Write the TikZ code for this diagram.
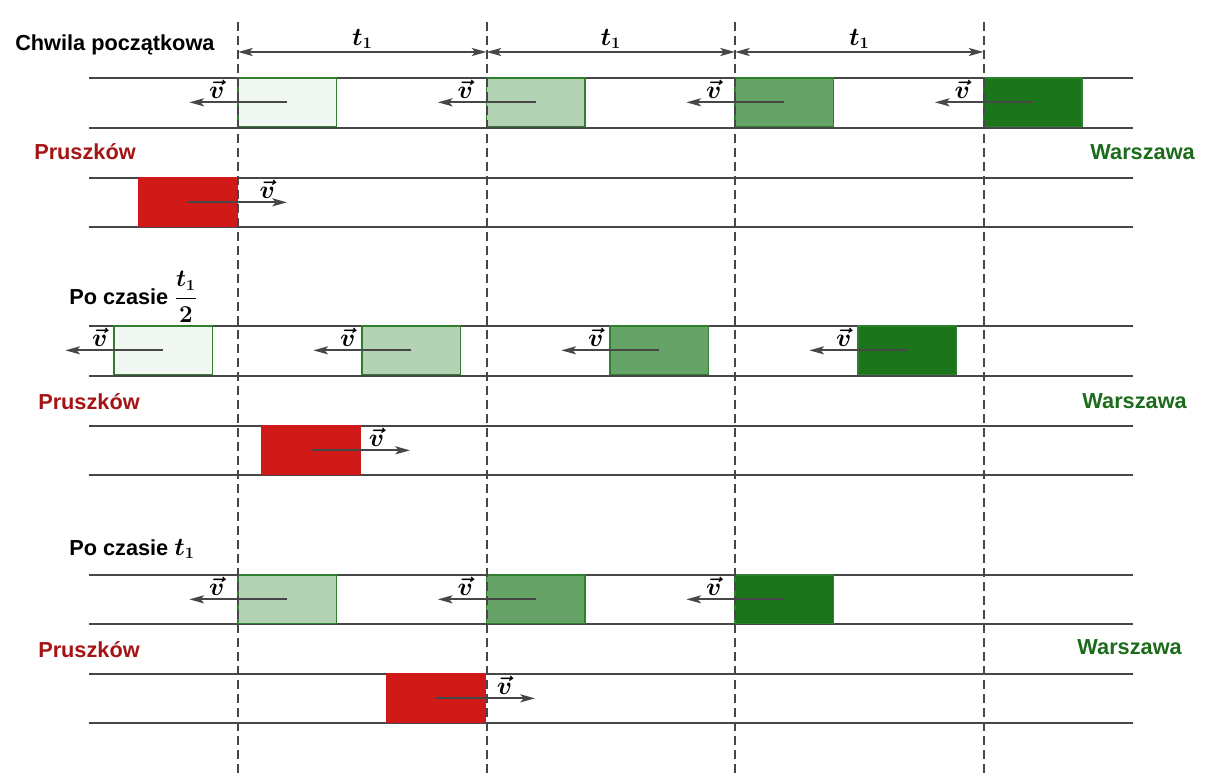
\documentclass[tikz,border=0pt]{standalone}
\usepackage{fontspec}
\usepackage{amsmath,bm}
\setmainfont{Liberation Sans}
\usetikzlibrary{arrows.meta}
\definecolor{dkgreen}{HTML}{1B761B}
\definecolor{lgreen}{HTML}{2F7F2F}
\definecolor{trred}{HTML}{D01A1A}
\definecolor{txred}{HTML}{A51414}
\definecolor{txgreen}{HTML}{1B6B1B}
\definecolor{linegray}{HTML}{474747}
\newcommand{\vv}{\scalebox{1.1}{$\bm{\vec{v}}$}}
\newcommand{\tjeden}{\scalebox{1.1}{$\bm{t_1}$}}
\begin{document}
\begin{tikzpicture}[x=0.75pt, y=-0.75pt, line cap=butt, font=\fontsize{16.3}{19}\selectfont\bfseries,
	>={Stealth[length=11pt, width=6pt, inset=2.5pt]}]
	\tikzset{rail/.style={draw=linegray, line width=1.4pt},
		train/.style={draw=lgreen, line width=1.1pt, minimum width=74pt, minimum height=36.5pt, inner sep=0pt, outer sep=0pt, anchor=north west},
		redtrain/.style={train, draw=trred, fill=trred},
		vel/.style={->, draw=linegray, line width=1.6pt},
		vlab/.style={above, inner sep=2pt},
		guide/.style={draw=linegray, line width=1.5pt, dash pattern=on 6.5pt off 4pt},
		town/.style={inner sep=0pt}}
	\useasboundingbox (0,0) rectangle (1209,781);
	% tory
	\foreach \y in {78,128,178,227,326,376,426,475,575,624,674,723}
		\draw[rail] (89,\y) -- (1133,\y);
	% chwila poczatkowa
	\foreach \x/\c/\n in {238/dkgreen!6/a, 486.5/dkgreen!33/b, 735/dkgreen!67/c, 983.5/dkgreen/d} {
		\node[train, fill=\c] (A\n) at (\x,78) {};
		\coordinate (A\n v) at ([xshift=-73.5pt]A\n.center);
		\draw[vel] (A\n.center) -- (A\n v) node[pos=0.72, vlab]{\vv};
	}
	\node[redtrain] (Ar) at (139,178) {};
	\coordinate (Ar v) at ([xshift=74pt]Ar.center);
	\draw[vel] (Ar.center) -- (Ar v) node[pos=0.8, vlab]{\vv};
	% po czasie t1/2
	\foreach \x/\c/\n in {114/dkgreen!6/a, 362/dkgreen!33/b, 610/dkgreen!67/c, 858/dkgreen/d} {
		\node[train, fill=\c] (B\n) at (\x,326) {};
		\coordinate (B\n v) at ([xshift=-73.5pt]B\n.center);
		\draw[vel] (B\n.center) -- (B\n v) node[pos=0.65, vlab]{\vv};
	}
	\node[redtrain] (Br) at (262,426) {};
	\coordinate (Br v) at ([xshift=74pt]Br.center);
	\draw[vel] (Br.center) -- (Br v) node[pos=0.66, vlab]{\vv};
	% po czasie t1
	\foreach \x/\c/\n in {238/dkgreen!33/a, 486.5/dkgreen!67/b, 735/dkgreen/c} {
		\node[train, fill=\c] (C\n) at (\x,575) {};
		\coordinate (C\n v) at ([xshift=-73.5pt]C\n.center);
		\draw[vel] (C\n.center) -- (C\n v) node[pos=0.72, vlab]{\vv};
	}
	\node[redtrain] (Cr) at (387,674) {};
	\coordinate (Cr v) at ([xshift=74pt]Cr.center);
	\draw[vel] (Cr.center) -- (Cr v) node[pos=0.69, vlab]{\vv};
	% linie przerywane i odstepy t1
	\foreach \x [count=\i] in {238,486.5,735,983.5} {
		\coordinate (T\i) at (\x,52);
		\draw[guide] (\x,22) -- (\x,775);
	}
	\foreach \i/\j in {1/2,2/3,3/4}
		\draw[vel, <->] (T\i) -- (T\j)
			node[midway, vlab, inner sep=1.5pt]{\tjeden};
	% napisy
	\node[town, anchor=west] (chw) at (15,45) {Chwila początkowa};
	\node[town, anchor=west] (po1) at (69,297) {Po czasie \scalebox{1.05}{$\boldsymbol{\dfrac{t_1}{2}}$}};
	\node[town, anchor=west] (po2) at (69,549) {Po czasie \tjeden};
	\node[town, anchor=west, text=txred] (pr1) at (34,152) {Pruszków};
	\node[town, anchor=west, text=txred] (pr2) at (38,402) {Pruszków};
	\node[town, anchor=west, text=txred] (pr3) at (38,650) {Pruszków};
	\node[town, anchor=east, text=txgreen] (wa1) at (1195,152) {Warszawa};
	\node[town, anchor=east, text=txgreen] (wa2) at (1187,401) {Warszawa};
	\node[town, anchor=east, text=txgreen] (wa3) at (1182,647) {Warszawa};
\end{tikzpicture}
\end{document}
